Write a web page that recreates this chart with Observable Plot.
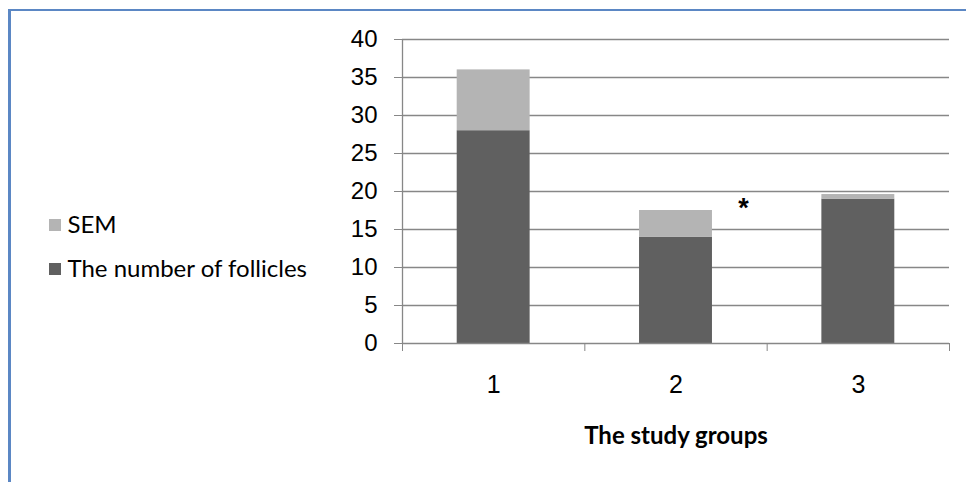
<!DOCTYPE html>
<html>
<head>
<meta charset="utf-8">
<script src="https://cdn.jsdelivr.net/npm/d3@7"></script>
<script src="https://cdn.jsdelivr.net/npm/@observablehq/plot@0.6"></script>
<style>
  body { margin: 0; background: #fff; }
  #wrap { position: relative; width: 966px; height: 482px; overflow: hidden; background: #fff; }
  #chart { position: absolute; left: 0; top: 0; }
  #border { position: absolute; left: 7.5px; top: 9px; right: -10px; bottom: -10px;
            border-left: 3px solid #5b87c4; border-top: 2px solid #5b87c4; pointer-events: none; }
  #legend { position: absolute; right: 659px; top: 202px; font-family: Lato, "Open Sans", sans-serif;
            font-size: 24px; line-height: 44px; color: #000; white-space: nowrap; }
  #legend .sw { display: inline-block; width: 12px; height: 12px; margin-right: 6px; vertical-align: middle; position: relative; top: -2px; }
</style>
</head>
<body>
<div id="wrap">
  <div id="border"></div>
  <div id="chart"></div>
  <div id="legend"></div>
</div>
<script>
// ---- data ----
const groups = [1, 2, 3];
const follicles = [28, 14, 19];      // "The number of follicles"
const sem = [8, 3.5, 0.6];           // "SEM" (stacked on top)
const yTicks = [0, 5, 10, 15, 20, 25, 30, 35, 40];
const groupBoundaries = [0.5, 1.5, 2.5, 3.5];
const seriesNames = ["SEM", "The number of follicles"];
const seriesColors = ["#b4b4b4", "#606060"];
const starX = [2.37];
const starY = [17.8];
const starText = ["*"];
const xTitle = ["The study groups"];
const barHalf = 0.2;

const rows = groups.map((g, i) => ({ group: g, mean: follicles[i], top: follicles[i] + sem[i] }));
const stars = starX.map((x, i) => ({ x, y: starY[i], t: starText[i] }));

const plot = Plot.plot({
  width: 966,
  height: 482,
  marginLeft: 402,
  marginRight: 17,
  marginTop: 39,
  marginBottom: 139,
  style: { fontFamily: "'Liberation Sans', Arial, sans-serif", background: "transparent", color: "#000" },
  x: { type: "linear", domain: [0.5, 3.5], label: null },
  y: { domain: [0, 40], label: null },
  marks: [
    Plot.ruleY(yTicks.filter(t => t > 0), { stroke: "#878787", strokeWidth: 1.3 }),
    Plot.rectY(rows, { x1: d => d.group - barHalf, x2: d => d.group + barHalf, y1: 0, y2: "mean", fill: seriesColors[1] }),
    Plot.rectY(rows, { x1: d => d.group - barHalf, x2: d => d.group + barHalf, y1: "mean", y2: "top", fill: seriesColors[0] }),
    Plot.ruleX([0.5], { stroke: "#878787", strokeWidth: 1.3 }),
    Plot.ruleY([0], { stroke: "#878787", strokeWidth: 1.3 }),
    Plot.axisY({ ticks: yTicks, tickSize: 8, tickPadding: 17, fontSize: 24, stroke: "#878787", fill: "#000", label: null, tickFormat: d => String(d) }),
    Plot.axisX({ ticks: groupBoundaries, tickSize: 8, stroke: "#878787", label: null, tickFormat: () => "" }),
    Plot.axisX({ ticks: groups, tickSize: 0, tickPadding: 32, fontSize: 25, fill: "#000", label: null, tickFormat: d => String(d) }),
    Plot.text(xTitle, { text: d => d, frameAnchor: "bottom", lineAnchor: "bottom", dy: 100,
      fontFamily: "Lato, 'Open Sans', sans-serif", fontWeight: "bold", fontSize: 24, fill: "#000" }),
    Plot.text(stars, { x: "x", y: "y", text: "t", fontSize: 27, fontWeight: "bold", fill: "#000" })
  ]
});
document.getElementById("chart").appendChild(plot);

const legend = document.getElementById("legend");
seriesNames.forEach((name, i) => {
  const item = document.createElement("div");
  const sw = document.createElement("span");
  sw.className = "sw";
  sw.style.background = seriesColors[i];
  item.appendChild(sw);
  item.appendChild(document.createTextNode(name));
  legend.appendChild(item);
});
</script>
</body>
</html>
